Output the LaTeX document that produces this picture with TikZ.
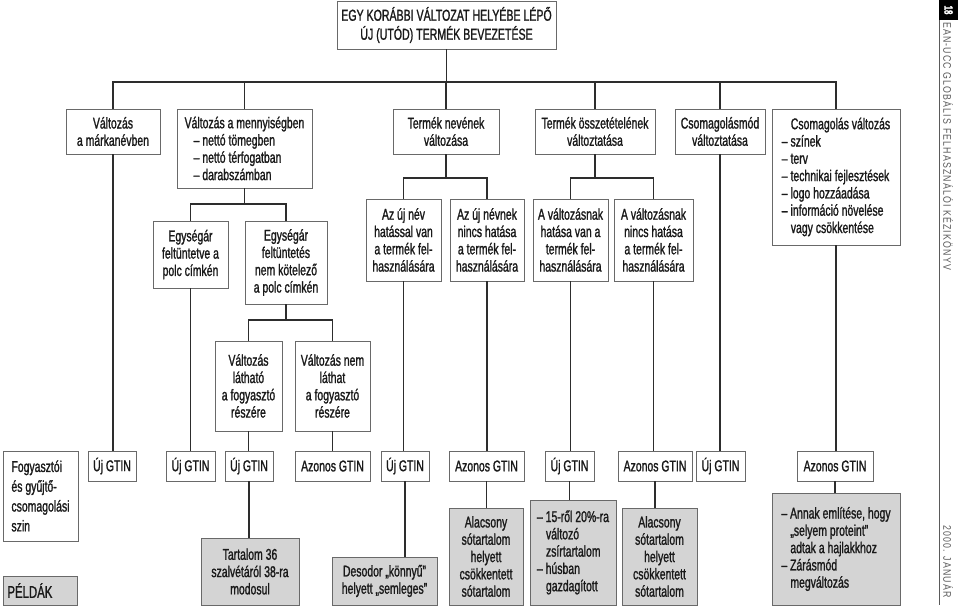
\documentclass[tikz,border=0pt]{standalone}
\usepackage{fontspec}
\setmainfont{Liberation Sans}[FakeStretch=0.67,FakeBold=1.2]
\newfontfamily\sidefont{Liberation Sans}[FakeStretch=0.8,LetterSpace=10.5]
\definecolor{boxgray}{RGB}{105,105,105}
\definecolor{linedark}{RGB}{45,45,45}
\definecolor{exfill}{RGB}{212,212,212}
\definecolor{txt}{RGB}{25,25,25}
\definecolor{sidegray}{RGB}{90,90,90}
\newcommand\fs{\fontsize{15.6pt}{17.3pt}\selectfont}
\newcommand\fst{\fontsize{15.8pt}{19pt}\selectfont}
\newcommand\fsf{\fontsize{15.6pt}{19.8pt}\selectfont}
\newcommand\ind{\hspace*{9pt}}
\tikzset{
  box/.style={draw=boxgray, line width=0.9pt, fill=white, inner sep=0pt, align=center, text=txt, font=\fs},
  exbox/.style={box, fill=exfill},
  conn/.style={draw=linedark, line width=1.7pt},
}
\begin{document}
\begin{tikzpicture}[x=1pt,y=-1pt]
\useasboundingbox (0,0) rectangle (960,607);
% title
\node[box, font=\fst, minimum width=219pt, minimum height=48pt] (T) at (446.5,25) {EGY KORÁBBI VÁLTOZAT HELYÉBE LÉPŐ\\ÚJ (UTÓD) TERMÉK BEVEZETÉSE};
% level 1
\node[box, minimum width=94pt, minimum height=45pt] (A1) at (113,131.5) {Változás\\a márkanévben};
\node[box, align=left, minimum width=135pt, minimum height=79pt] (A2) at (244.5,148.5) {Változás a mennyiségben\\\ind – nettó tömegben\\\ind – nettó térfogatban\\\ind – darabszámban};
\node[box, minimum width=106pt, minimum height=45pt] (A3) at (446,131.5) {Termék nevének\\változása};
\node[box, minimum width=120pt, minimum height=45pt] (A4) at (595,131.5) {Termék összetételének\\változtatása};
\node[box, minimum width=90pt, minimum height=45pt] (A5) at (720,131.5) {Csomagolásmód\\változtatása};
\node[box, align=left, minimum width=128pt, minimum height=136pt] (A6) at (836,177) {\ind Csomagolás változás\\– színek\\– terv\\– technikai fejlesztések\\– logo hozzáadása\\– információ növelése\\\ind vagy csökkentése};
% level 2
\node[box, minimum width=75pt, minimum height=67pt] (B1) at (190.5,254.5) {Egységár\\feltüntetve a\\polc címkén};
\node[box, minimum width=82pt, minimum height=83pt] (B2) at (286,262.5) {Egységár\\feltüntetés\\nem kötelező\\a polc címkén};
\node[box, minimum width=75pt, minimum height=82pt] (B3) at (403.5,240) {Az új név\\hatással van\\a termék fel-\\használására};
\node[box, minimum width=74pt, minimum height=82pt] (B4) at (487,240) {Az új névnek\\nincs hatása\\a termék fel-\\használására};
\node[box, minimum width=75pt, minimum height=82pt] (B5) at (570.5,240) {A változásnak\\hatása van a\\termék fel-\\használására};
\node[box, minimum width=79pt, minimum height=82pt] (B6) at (653.5,240) {A változásnak\\nincs hatása\\a termék fel-\\használására};
% level 3
\node[box, minimum width=67pt, minimum height=90pt] (C1) at (248.5,386) {Változás\\látható\\a fogyasztó\\részére};
\node[box, minimum width=75pt, minimum height=90pt] (C2) at (332.5,386) {Változás nem\\láthat\\a fogyasztó\\részére};
% GTIN row
\node[box, align=left, font=\fsf, minimum width=75pt, minimum height=90pt] (F) at (40.5,496) {Fogyasztói\\és gyűjtő-\\csomagolási\\szin};
\node[box, minimum width=48pt, minimum height=30pt] (G1) at (112,466) {Új GTIN};
\node[box, minimum width=49pt, minimum height=30pt] (G2) at (190.5,466) {Új GTIN};
\node[box, minimum width=48pt, minimum height=30pt] (G3) at (249,466) {Új GTIN};
\node[box, minimum width=75pt, minimum height=30pt] (G4) at (332.5,466) {Azonos GTIN};
\node[box, minimum width=48pt, minimum height=30pt] (G5) at (405,466) {Új GTIN};
\node[box, minimum width=75pt, minimum height=30pt] (G6) at (486.5,466) {Azonos GTIN};
\node[box, minimum width=49pt, minimum height=30pt] (G7) at (569.5,466) {Új GTIN};
\node[box, minimum width=74pt, minimum height=30pt] (G8) at (655,466) {Azonos GTIN};
\node[box, minimum width=49pt, minimum height=30pt] (G9) at (720.5,466) {Új GTIN};
\node[box, minimum width=76pt, minimum height=30pt] (G10) at (835,466) {Azonos GTIN};
% examples
\node[exbox, anchor=west, text width=66pt, align=left, minimum width=74pt, minimum height=29pt, inner xsep=4pt, font=\fontsize{17pt}{19pt}\selectfont] (P) at (3,590.5) {PÉLDÁK};
\node[exbox, minimum width=98pt, minimum height=67pt] (E1) at (250,571.5) {Tartalom 36\\szalvétáról 38-ra\\modosul};
\node[exbox, minimum width=105pt, minimum height=48pt] (E2) at (384.5,581) {Desodor „könnyű”\\helyett „semleges”};
\node[exbox, minimum width=74pt, minimum height=97pt] (E3) at (486,556.5) {Alacsony\\sótartalom\\helyett\\csökkentett\\sótartalom};
\node[exbox, align=left, minimum width=86pt, minimum height=105pt] (E4) at (573,552.5) {– 15-ről 20\%-ra\\\ind változó\\\ind zsírtartalom\\– húsban\\\ind gazdagított};
\node[exbox, minimum width=75pt, minimum height=97pt] (E5) at (659.5,556.5) {Alacsony\\sótartalom\\helyett\\csökkentett\\sótartalom};
\node[exbox, align=left, minimum width=128pt, minimum height=112pt] (E6) at (836,549) {– Annak említése, hogy\\\ind „selyem proteint”\\\ind adtak a hajlakkhoz\\– Zárásmód\\\ind megváltozás};
% connectors
\coordinate (bus) at (0,82);
\coordinate (b2) at (0,204);
\coordinate (b3) at (0,178);
\coordinate (b4) at (0,320);
\draw[conn] (T.south) -- (T.south |- bus);
\draw[conn] (A1.north) -- (A1.north |- bus) -- (A6.north |- bus) -- (A6.north);
\foreach \n in {A2,A3,A4,A5} \draw[conn] (\n.north) -- (\n.north |- bus);
\draw[conn] (A2.south) -- (A2.south |- b2);
\draw[conn] (B1.north) -- (B1.north |- b2) -- (B2.north |- b2) -- (B2.north);
\draw[conn] (A3.south) -- (A3.south |- b3);
\draw[conn] (B3.north) -- (B3.north |- b3) -- (B4.north |- b3) -- (B4.north);
\draw[conn] (A4.south) -- (A4.south |- b3);
\draw[conn] (B5.north) -- (B5.north |- b3) -- (B6.north |- b3) -- (B6.north);
\draw[conn] (B2.south) -- (B2.south |- b4);
\draw[conn] (C1.north) -- (C1.north |- b4) -- (C2.north |- b4) -- (C2.north);
\draw[conn] (A1.south) -- (A1.south |- G1.north);
\draw[conn] (B1.south) -- (B1.south |- G2.north);
\draw[conn] (C1.south) -- (C1.south |- G3.north);
\draw[conn] (C2.south) -- (C2.south |- G4.north);
\draw[conn] (B3.south) -- (B3.south |- G5.north);
\draw[conn] (B4.south) -- (B4.south |- G6.north);
\draw[conn] (B5.south) -- (B5.south |- G7.north);
\draw[conn] (B6.south) -- (B6.south |- G8.north);
\draw[conn] (A5.south) -- (A5.south |- G9.north);
\draw[conn] (A6.south) -- (A6.south |- G10.north);
\draw[conn] (G3.south) -- (G3.south |- E1.north);
\draw[conn] (G5.south) -- (G5.south |- E2.north);
\draw[conn] (G6.south) -- (G6.south |- E3.north);
\draw[conn] (G7.south) -- (G7.south |- E4.north);
\draw[conn] (G8.south) -- (G8.south |- E5.north);
\draw[conn] (G10.south) -- (G10.south |- E6.north);
% side bar
\fill[black] (939,0) rectangle (958,20);
\node[rotate=-90, text=white, font=\fontsize{12pt}{12pt}\selectfont\bfseries, inner sep=0pt] (pg) at (948.5,10) {18};
\draw[sidegray, line width=0.8pt] (939,20) -- (939,605);
\node[rotate=-90, anchor=west, text=sidegray, font=\sidefont\fontsize{11pt}{12pt}\selectfont, inner sep=0pt] (hd) at (948,22) {EAN-UCC GLOBÁLIS FELHASZNÁLÓI KÉZIKÖNYV};
\node[rotate=-90, anchor=east, text=sidegray, font=\sidefont\fontsize{11pt}{12pt}\selectfont, inner sep=0pt] (dt) at (948,598) {2000. JANUÁR};
\end{tikzpicture}
\end{document}
